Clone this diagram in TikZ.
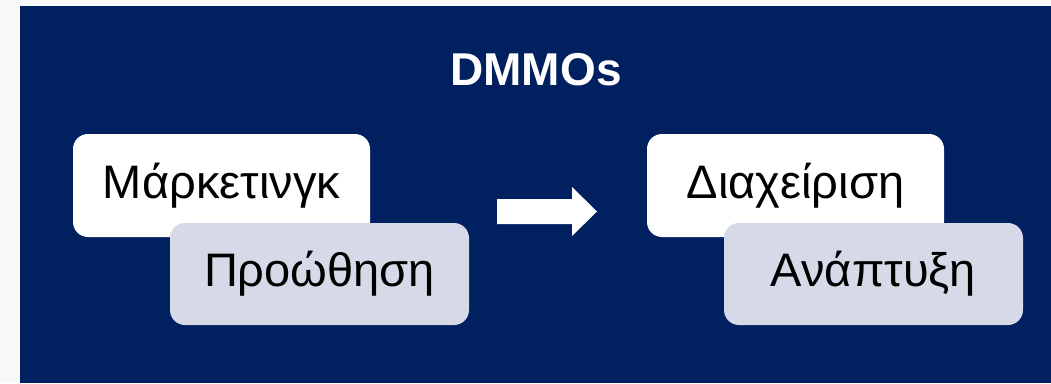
\documentclass[tikz,border=0pt]{standalone}
\usepackage{fontspec}
\setmainfont{Liberation Sans}
\definecolor{navy}{HTML}{002060}
\definecolor{lilac}{HTML}{D5D9E8}
\definecolor{paper}{HTML}{F8F8F8}
\begin{document}
\begin{tikzpicture}[x=1pt,y=-1pt]
\tikzset{
  card/.style={rounded corners=15pt,inner sep=0,minimum width=297pt,minimum height=103pt,
    font=\fontsize{47}{56}\selectfont,text=black},
  top/.style={card,fill=white},
  under/.style={card,fill=lilac,minimum width=299pt,minimum height=102pt},
}
\useasboundingbox (0,0) rectangle (1051,383);
\fill[paper] (0,0) rectangle (1051,383);
\fill[navy] (20,6) rectangle (1051,383);
\node[text=white,font=\bfseries\fontsize{46}{55}\selectfont] (title) at (536,70) {DMMOs};
\foreach \x/\d/\n/\a/\b in {221.5/98/mk/Μάρκετινγκ/Προώθηση, 795.5/78/dx/Διαχείριση/Ανάπτυξη}{
  \node[top] (\n_1) at (\x,185.5) {\a};
  \node[under] (\n_2) at (\x+\d,274) {\b};
}
% block arrow between the two pairs
\fill[white] (497,199) -- (572,199) -- (572,187) -- (597,211.5) -- (572,236)
  -- (572,224) -- (497,224) -- cycle;
\end{tikzpicture}
\end{document}
